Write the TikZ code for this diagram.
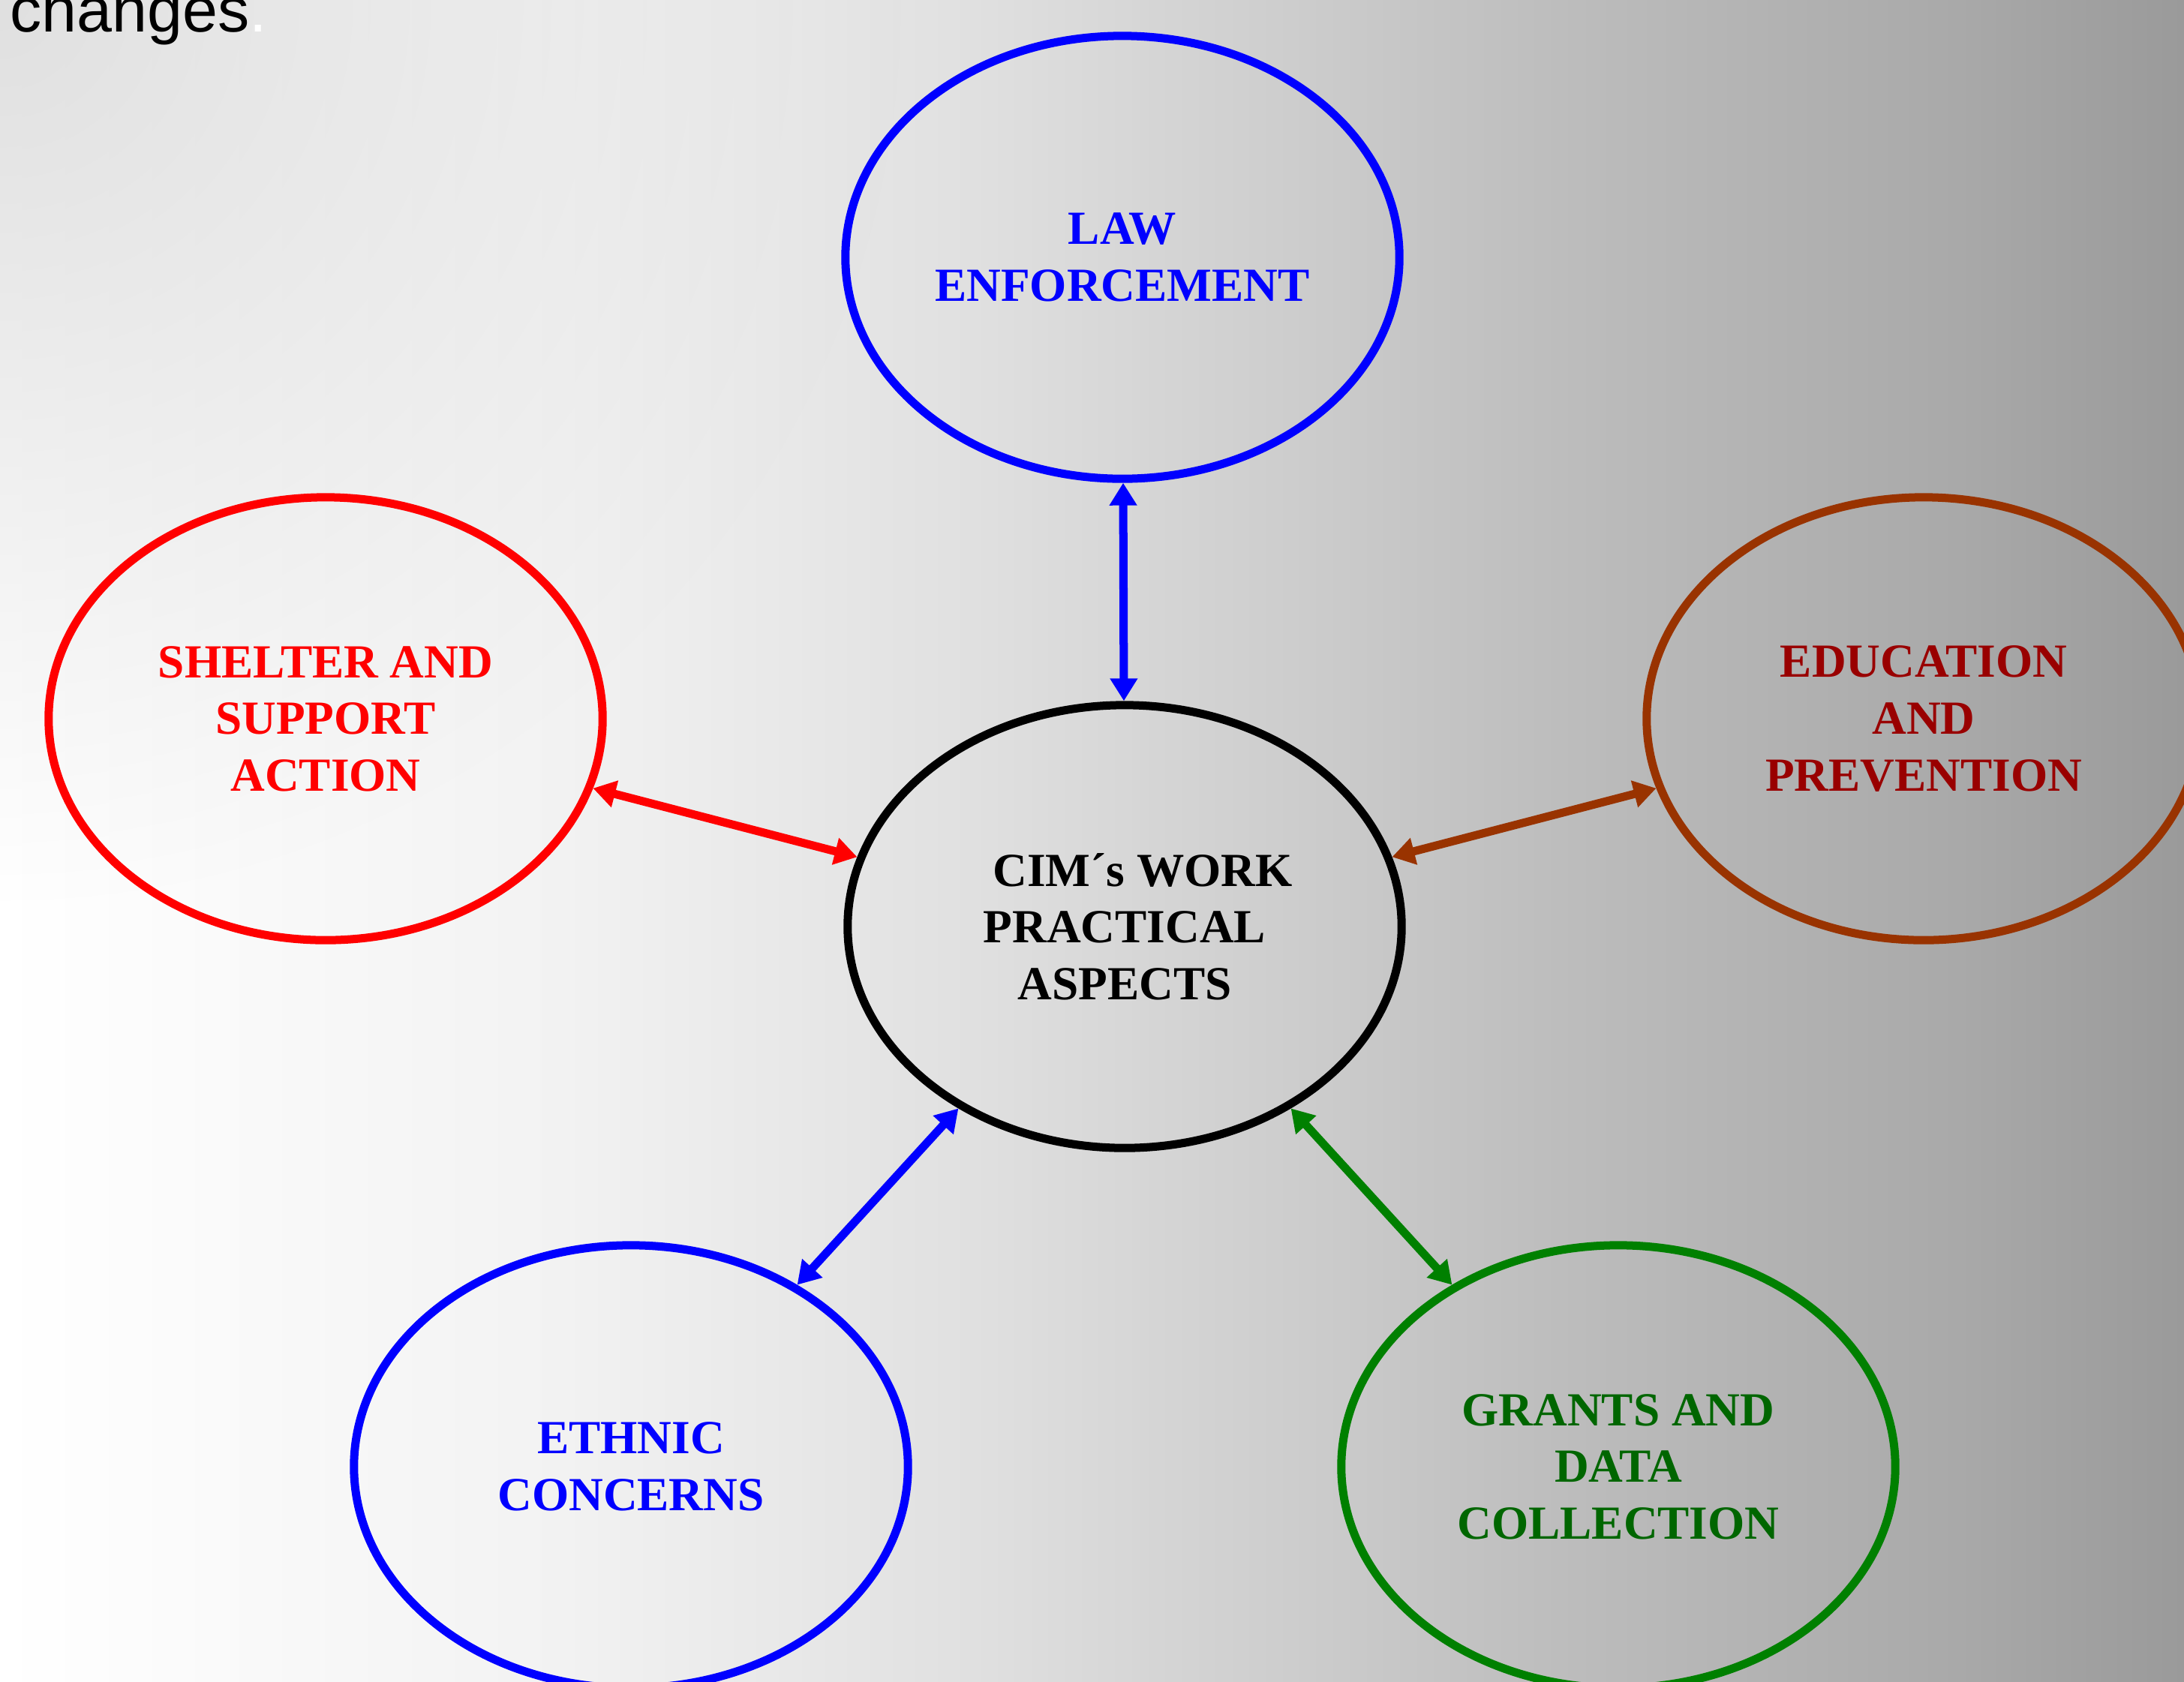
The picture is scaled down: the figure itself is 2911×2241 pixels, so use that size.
\documentclass[tikz,border=0pt]{standalone}
\usepackage{fontspec}
\setmainfont{Liberation Serif}
\newfontfamily\arialfont{Liberation Sans}
\usetikzlibrary{arrows.meta,shapes.geometric,fadings}

\definecolor{lawblue}{RGB}{0,0,255}
\definecolor{shelterred}{RGB}{255,0,0}
\definecolor{eduline}{RGB}{153,51,0}
\definecolor{edutext}{RGB}{153,0,0}
\definecolor{grantline}{RGB}{0,128,0}
\definecolor{granttext}{RGB}{0,102,0}
\definecolor{cornergray}{RGB}{224,224,224}
\pgfdeclarehorizontalshading{slidebg}{100bp}{rgb(0bp)=(1,1,1); rgb(25bp)=(1,1,1); rgb(37.9bp)=(0.949,0.949,0.949); rgb(47.3bp)=(0.878,0.878,0.878); rgb(61.1bp)=(0.737,0.737,0.737); rgb(69.8bp)=(0.663,0.663,0.663); rgb(75bp)=(0.604,0.604,0.604); rgb(100bp)=(0.604,0.604,0.604)}
\tikzfading[name=cornerfade, inner color=transparent!0, outer color=transparent!100]
\tikzset{
  topic/.style={ellipse, draw, line width=0.11cm, minimum width=7.38cm, minimum height=5.9cm,
    inner sep=0pt, align=center, font=\bfseries\fontsize{18}{21.5}\selectfont},
  twoway/.style={{Triangle[length=0.3cm,width=0.35cm]}-{Triangle[length=0.3cm,width=0.35cm]}, line width=0.11cm}
}

\begin{document}
\begin{tikzpicture}[x=0.01cm, y=-0.01cm]
  \useasboundingbox (0,0) rectangle (2911,2241);
  \shade[shading=slidebg] (0,0) rectangle (2911,2241);
  \fill[cornergray, path fading=cornerfade] (0,0) circle[radius=12cm];

  \node[topic, lawblue] (law) at (1496,343) {LAW\\ENFORCEMENT};
  \node[topic, draw=black] (cim) at (1499,1235) {\hspace*{0.48cm}CIM´s WORK\\PRACTICAL\\ASPECTS};
  \node[topic, shelterred] (shelter) at (434,958) {SHELTER AND\\SUPPORT\\ACTION};
  \node[topic, draw=eduline, text=edutext] (edu) at (2564,958) {EDUCATION\\AND\\PREVENTION};
  \node[topic, lawblue] (ethnic) at (841,1955) {ETHNIC\\CONCERNS};
  \node[topic, draw=grantline, text=granttext] (grants) at (2157,1955) {GRANTS AND\\DATA\\COLLECTION};
  \node[anchor=base west, inner sep=0pt, font=\arialfont\fontsize{24}{28}\selectfont] (caption) at (13,42) {changes\textcolor{white}{.}};

  \draw[twoway, lawblue] (law) -- (cim);
  \draw[twoway, shelterred] (shelter) -- (cim);
  \draw[twoway, eduline] (edu) -- (cim);
  \draw[twoway, lawblue] (ethnic) -- (cim);
  \draw[twoway, grantline] (grants) -- (cim);
\end{tikzpicture}
\end{document}
